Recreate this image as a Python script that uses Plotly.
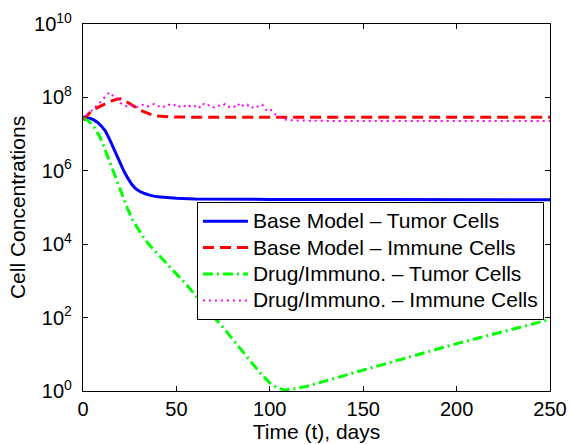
import plotly.graph_objects as go

# ---- data (log10 of cell concentration) ----
t_base_tumor = [0, 2, 4, 6, 8, 10, 12, 14, 16, 18, 20, 22, 24, 26, 28, 30, 33, 36, 40, 45, 50, 60, 80, 100, 150, 200, 250]
log_base_tumor = [7.47, 7.46, 7.43, 7.38, 7.31, 7.21, 7.08, 6.88, 6.66, 6.40, 6.18, 5.98, 5.80, 5.64, 5.52, 5.45, 5.38, 5.33, 5.29, 5.26, 5.25, 5.23, 5.22, 5.22, 5.215, 5.21, 5.21]

t_base_immune = [0, 3, 6, 9, 12, 15, 18, 20, 22, 25, 28, 31, 34, 37, 40, 45, 50, 60, 100, 150, 200, 250]
log_base_immune = [7.38, 7.55, 7.68, 7.76, 7.83, 7.90, 7.95, 7.96, 7.92, 7.84, 7.74, 7.64, 7.57, 7.52, 7.49, 7.47, 7.465, 7.46, 7.46, 7.46, 7.46, 7.46]

t_drug_tumor = [0, 3, 6, 9, 12, 15, 18, 21, 24, 27, 30, 33, 36, 41, 45, 50, 55, 60, 65, 70, 75, 80, 85, 90, 95, 100, 104, 108, 112, 120, 130, 150, 175, 200, 225, 250]
log_drug_tumor = [7.43, 7.36, 7.18, 6.93, 6.55, 6.15, 5.75, 5.36, 4.95, 4.62, 4.36, 4.14, 3.95, 3.68, 3.46, 3.21, 2.92, 2.62, 2.31, 2.01, 1.73, 1.42, 1.11, 0.79, 0.48, 0.22, 0.08, 0.03, 0.05, 0.13, 0.28, 0.57, 0.93, 1.29, 1.62, 1.95]

t_drug_immune = [0, 2, 4, 6, 8, 10, 12, 14, 16, 18, 20, 22, 24, 26, 28, 30, 32, 34, 36, 38, 40, 42, 44, 46, 48, 50,
                 52, 54, 56, 58, 60, 62, 64, 66, 68, 70, 72, 74, 76, 78, 80, 82, 84, 86, 88, 90, 92, 94, 96, 98,
                 100, 102, 104, 106, 108, 110, 115, 120, 130, 140, 150, 160, 170, 180, 190, 200, 210, 220, 230, 240, 250]
log_drug_immune = [7.38, 7.52, 7.60, 7.72, 7.80, 7.92, 8.02, 8.14, 8.05, 8.00, 7.85, 7.80, 7.74, 7.78, 7.72, 7.76, 7.80, 7.74, 7.78, 7.82, 7.75, 7.79, 7.73, 7.80, 7.76, 7.82,
                   7.74, 7.78, 7.72, 7.80, 7.76, 7.70, 7.84, 7.76, 7.80, 7.73, 7.79, 7.75, 7.82, 7.74, 7.78, 7.72, 7.85, 7.76, 7.80, 7.70, 7.78, 7.74, 7.80, 7.66,
                   7.70, 7.56, 7.52, 7.44, 7.40, 7.38, 7.37, 7.36, 7.36, 7.36, 7.36, 7.36, 7.36, 7.36, 7.36, 7.36, 7.36, 7.36, 7.36, 7.36, 7.36]

series_names = ["Base Model \u2013 Tumor Cells", "Base Model \u2013 Immune Cells",
                "Drug/Immuno. \u2013 Tumor Cells", "Drug/Immuno. \u2013 Immune Cells"]

x_ticks = [0, 50, 100, 150, 200, 250]
y_tick_exps = [0, 2, 4, 6, 8, 10]
y_tick_text = ["10<sup>%d</sup>" % e for e in y_tick_exps]

FONT = "Liberation Sans, Arial, Helvetica, sans-serif"


def legend_label(s):
    return '<span style="font-size:21px">%s</span>' % s


fig = go.Figure()
fig.add_trace(go.Scatter(x=t_base_tumor, y=[10 ** v for v in log_base_tumor], mode="lines",
                         name=legend_label(series_names[0]), line=dict(color="#0000FF", width=3, dash="solid")))
fig.add_trace(go.Scatter(x=t_base_immune, y=[10 ** v for v in log_base_immune], mode="lines",
                         name=legend_label(series_names[1]), line=dict(color="#FF0000", width=3, dash="11px,6px")))
fig.add_trace(go.Scatter(x=t_drug_tumor, y=[10 ** v for v in log_drug_tumor], mode="lines",
                         name=legend_label(series_names[2]), line=dict(color="#00FF00", width=3, dash="10px,4px,2px,4px")))
fig.add_trace(go.Scatter(x=t_drug_immune, y=[10 ** v for v in log_drug_immune], mode="lines",
                         name=legend_label(series_names[3]), line=dict(color="#FF00FF", width=2, dash="2px,4px")))

fig.update_layout(
    width=570, height=444,
    margin=dict(l=83, r=20, t=24, b=53, autoexpand=False),
    paper_bgcolor="white", plot_bgcolor="white",
    font=dict(family=FONT, size=21, color="black"),
    showlegend=True,
    legend=dict(x=0.244, y=0.515, xanchor="left", yanchor="top",
                bgcolor="white", bordercolor="black", borderwidth=1,
                font=dict(family=FONT, size=18, color="black"),
                itemwidth=45, tracegroupgap=0),
)
fig.update_xaxes(range=[0, 250], tickvals=x_ticks, ticks="inside", ticklen=5, tickcolor="black",
                 showline=True, linecolor="black", linewidth=1.3, mirror="ticks", showgrid=False, zeroline=False,
                 automargin=False,
                 tickfont=dict(size=20), title=dict(text="Time (t), days", font=dict(size=21), standoff=2))
fig.update_yaxes(type="log", range=[0, 10], tickvals=[10 ** e for e in y_tick_exps], ticktext=y_tick_text,
                 ticks="inside", ticklen=5, tickcolor="black",
                 showline=True, linecolor="black", linewidth=1.3, mirror="ticks", showgrid=False, zeroline=False,
                 automargin=False,
                 tickfont=dict(size=20), ticklabelstandoff=6,
                 title=dict(text="Cell Concentrations", font=dict(size=21), standoff=2))

fig.write_html("out.html")
